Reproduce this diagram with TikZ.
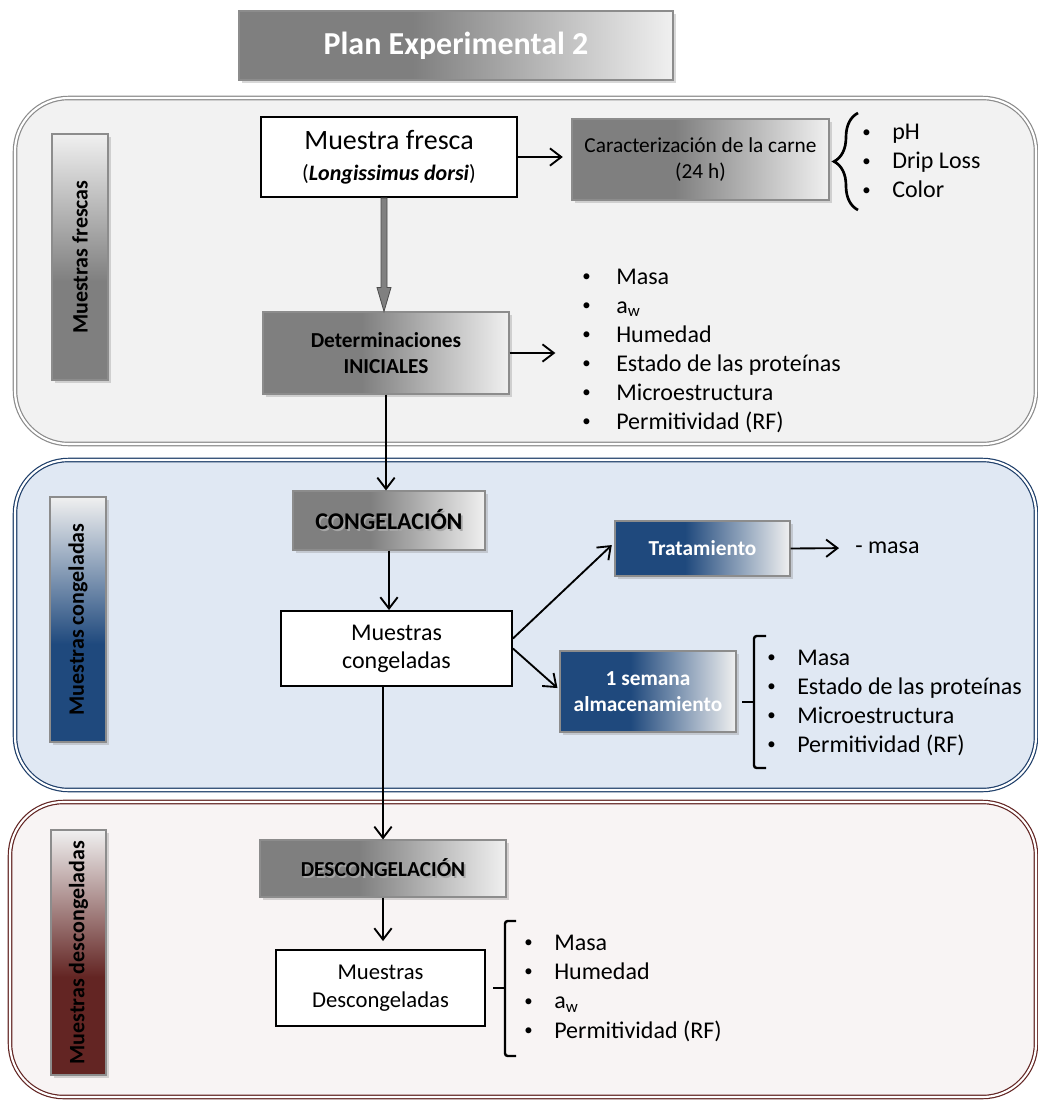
\documentclass[tikz,border=0pt]{standalone}
\usepackage{fontspec}
\usepackage{graphicx}
\setmainfont{Carlito}
\usetikzlibrary{arrows.meta,shadows,fit,calc,decorations.pathreplacing}

\definecolor{gdark}{HTML}{7F7F7F}
\definecolor{glight}{HTML}{F0F0F0}
\definecolor{bdark}{HTML}{1F497D}
\definecolor{rdark}{HTML}{632523}
\definecolor{pfillA}{HTML}{F2F2F2}
\definecolor{pfillB}{HTML}{E0E8F3}
\definecolor{pfillC}{HTML}{F8F4F4}
\definecolor{plineA}{HTML}{8C8C8C}
\definecolor{plineB}{HTML}{1F3F6A}
\definecolor{plineC}{HTML}{632523}

% left-to-right fades: solid on the left part, then to light grey
\pgfdeclarehorizontalshading{grayfade}{100bp}{color(0bp)=(gdark); color(25bp)=(gdark); color(45bp)=(gdark); color(75bp)=(glight); color(100bp)=(glight)}
\pgfdeclarehorizontalshading{bluefade}{100bp}{color(0bp)=(bdark); color(25bp)=(bdark); color(45bp)=(bdark); color(75bp)=(glight); color(100bp)=(glight)}
% bottom-to-top fades for the side bars
\pgfdeclareverticalshading{grayrise}{100bp}{color(0bp)=(gdark); color(25bp)=(gdark); color(45bp)=(gdark); color(75bp)=(glight); color(100bp)=(glight)}
\pgfdeclareverticalshading{bluerise}{100bp}{color(0bp)=(bdark); color(25bp)=(bdark); color(45bp)=(bdark); color(75bp)=(glight); color(100bp)=(glight)}
\pgfdeclareverticalshading{redrise}{100bp}{color(0bp)=(rdark); color(25bp)=(rdark); color(45bp)=(rdark); color(75bp)=(glight); color(100bp)=(glight)}

% small list bullet followed by a fixed indent
\newcommand\bul[1][22.5pt]{\makebox[#1][l]{\raisebox{0.1em}{\scalebox{0.7}{•}}}}
\newcommand\shadowed[1]{\leavevmode\rlap{\kern1.3pt\raisebox{-1.3pt}{\textcolor{black!35}{#1}}}#1}

\tikzset{
  panel/.style={rounded corners=40pt, line width=0.9pt, double=white, double distance=1.6pt},
  softshadow/.style={drop shadow={shadow xshift=2pt, shadow yshift=-2pt, opacity=0.3}},
  sz/.style 2 args={minimum width=#1*0.75pt, minimum height=#2*0.75pt},
  gbox/.style={draw=plineA, line width=0.8pt, shading=grayfade, softshadow, inner sep=0pt, align=center},
  bbox/.style={draw=plineA, line width=0.8pt, shading=bluefade, softshadow, inner sep=0pt, align=center,
               text=white, font=\bfseries\fontsize{16}{19}\selectfont},
  wbox/.style={draw=black, line width=1.4pt, fill=white, inner sep=0pt, align=center},
  sidebar/.style={draw=plineA, line width=0.8pt, softshadow, inner sep=0pt},
  bartext/.style={rotate=90, font=\bfseries\fontsize{16.5}{19}\selectfont},
  lst/.style={anchor=west, inner sep=0pt, align=left, font=\fontsize{18}{21.75}\selectfont},
  arr/.style={-{Straight Barb[length=8.5pt,width=13pt]}, line width=1.4pt},
  bracket/.style={line width=1.8pt, rounded corners=2pt}
}

\begin{document}
\begin{tikzpicture}[x=0.75pt,y=-0.75pt]
\fill[white] (0,0) rectangle (1038,1100);
\useasboundingbox (0,0) rectangle (1038,1100);

% three stage panels
\draw[panel, draw=plineA, fill=pfillA] (15,98) rectangle (1036,444);
\draw[panel, draw=plineB, fill=pfillB] (15,460) rectangle (1036,790);
\draw[panel, draw=plineC, fill=pfillC] (10,802) rectangle (1036,1097);

% title
\node[gbox, sz={434}{69}, text=white, font=\bfseries\fontsize{24}{28}\selectfont] (title) at (456,45.5) {Plan Experimental 2};

% side bars
\node[sidebar, shading=grayrise, fit={(52,134) (108,380)}] (barA) {};
\node[bartext] (barAtxt) at (barA.center) {Muestras frescas};
\node[sidebar, shading=bluerise, fit={(50,497) (106,742)}] (barB) {};
\node[bartext] (barBtxt) at (barB.center) {Muestras congeladas};
\node[sidebar, shading=redrise, fit={(51,830) (106,1075)}] (barC) {};
\node[bartext] (barCtxt) at (barC.center) {Muestras descongeladas};

% fresh samples
\node[wbox, sz={256}{80}, font=\fontsize{21}{23}\selectfont] (fresca) at (389,157)
  {Muestra fresca\\{\fontsize{16.5}{18}\selectfont(\textbf{\textit{Longissimus dorsi}})}};
\node[gbox, sz={257}{81}, font=\fontsize{16}{19}\selectfont] (carac) at (700.5,159.5)
  {Caracterización de la carne\\(24 h)};
\node[lst] (lstA) at (862,161) {\bul pH\\ \bul Drip Loss\\ \bul Color};
\node[gbox, sz={246}{82}, font=\bfseries\fontsize{16}{19}\selectfont] (det) at (386,353)
  {Determinaciones\\INICIALES};
\node[lst] (lstB) at (582,350.5) {\bul[25.5pt]Masa\\ \bul[25.5pt]a\textsubscript{w}\\ \bul[25.5pt]Humedad\\
  \bul[25.5pt]Estado de las proteínas\\ \bul[25.5pt]Microestructura\\ \bul[25.5pt]Permitividad (RF)};

% frozen samples
\node[gbox, sz={192}{59}, font=\bfseries\fontsize{18}{21}\selectfont] (cong) at (389,520.5) {\shadowed{CONGELACIÓN}};
\node[wbox, sz={231}{75}, font=\fontsize{18}{21}\selectfont] (congmu) at (396.5,648.5) {Muestras\\congeladas};
\node[bbox, sz={175}{55}] (trat) at (702.5,548.5) {Tratamiento};
\node[anchor=west, inner sep=0pt, font=\fontsize{18}{21}\selectfont] (masa) at (855,548) {- masa};
\node[bbox, sz={176}{81}] (sem) at (648,691.5) {1 semana\\almacenamiento};
\node[lst] (lstC) at (767,702.5) {\bul Masa\\ \bul Estado de las proteínas\\ \bul Microestructura\\ \bul Permitividad (RF)};

% thawed samples
\node[gbox, sz={246}{57}, font=\bfseries\fontsize{16}{19}\selectfont] (desc) at (383,868.5) {\shadowed{DESCONGELACIÓN}};
\node[wbox, sz={209}{76}, font=\fontsize{17}{21}\selectfont] (descmu) at (380.5,988) {Muestras\\Descongeladas};
\node[lst, font=\fontsize{18}{22}\selectfont] (lstD) at (524,988) {\bul Masa\\ \bul Humedad\\ \bul a\textsubscript{w}\\ \bul Permitividad (RF)};

% braces
\draw[decorate, decoration={brace, amplitude=18pt}, line width=2pt] (858,210) -- (858,113);
\draw[bracket] (766,636) -- (754,636) -- (754,768) -- (766,768);
\draw[line width=1.8pt] (742,702) -- (754,702);
\draw[bracket] (516,921) -- (505,921) -- (505,1056) -- (516,1056);
\draw[line width=1.8pt] (493,988) -- (505,988);

% connectors
\coordinate (bigtop) at ($(fresca.south)+(-5,0)$);
\coordinate (bigtip) at (bigtop |- det.north);
\fill[black!50, draw=black!70, line width=0.6pt]
  ($(bigtop)+(-3,0)$) -- ($(bigtip)+(-3,-24)$) -- ($(bigtip)+(-7,-24)$) -- (bigtip)
  -- ($(bigtip)+(7,-24)$) -- ($(bigtip)+(3,-24)$) -- ($(bigtop)+(3,0)$) -- cycle;

\draw[arr, shorten >=6.5pt] (fresca.east) -- (fresca.east -| carac.west);
\draw[arr, shorten >=20pt] (det.east) -- (det.east -| lstB.west);
\draw[arr] (det.south) -- (det.south |- cong.north);
\draw[arr] (cong.south) -- (cong.south |- congmu.north);
\draw[arr] ([yshift=7.5pt]congmu.east) -- ([xshift=-2pt,yshift=2.6pt]trat.west);
\draw[arr] (congmu.east) -- ([xshift=-1.5pt,yshift=2.6pt]sem.west);
\draw[arr, shorten >=12pt] (trat.east) -- (masa.west);
\draw[arr] (congmu.south -| desc.north) -- (desc.north);
\draw[arr, shorten >=6pt] (desc.south) -- (desc.south |- descmu.north);
\end{tikzpicture}
\end{document}
